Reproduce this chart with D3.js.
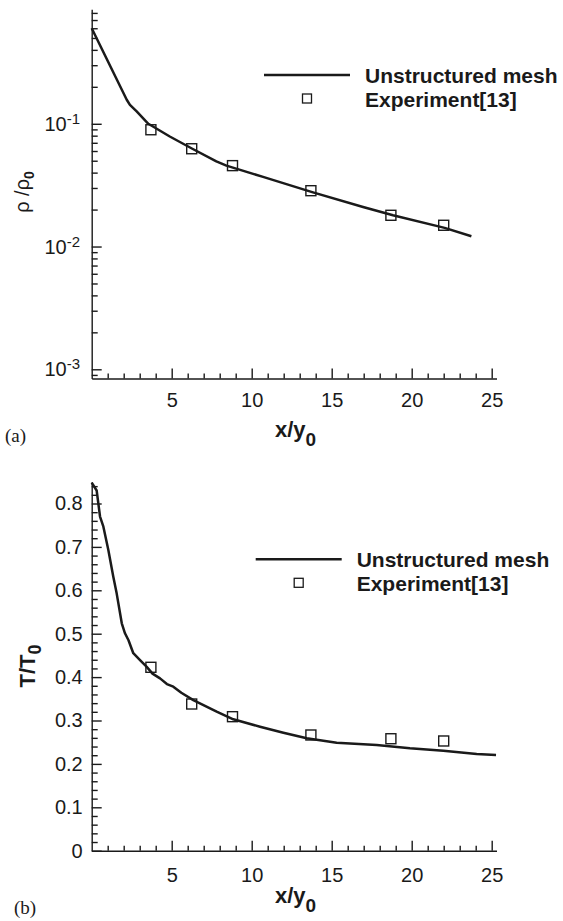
<!DOCTYPE html>
<html>
<head>
<meta charset="utf-8">
<script src="https://cdn.jsdelivr.net/npm/d3@7"></script>
<style>
  html, body { margin: 0; padding: 0; background: #fff; }
  svg { display: block; }
  text { font-family: "Liberation Sans", Arial, Helvetica, sans-serif; fill: #1a1a1a; }
  text.serif { font-family: "Liberation Serif", "Times New Roman", serif; }
</style>
</head>
<body>
<svg id="chart" width="563" height="921"></svg>
<script>
// ---------------- DATA ----------------
// shared x axis
const xMajorTicks = [5, 10, 15, 20, 25];
const xMinorTicks = [1,2,3,4,6,7,8,9,11,12,13,14,16,17,18,19,21,22,23,24];

// (a) density ratio
const rhoMajorTicks = [1e-1, 1e-2, 1e-3];
const rhoTickExponents = ["-1", "-2", "-3"];
const rhoSimX = [0, 2.19, 2.39, 2.81, 3.54, 4.88, 6.29, 7.79, 8.42, 10.71, 13.83, 16.96, 18.83, 22.06, 23.73];
const rhoSimY = [0.600, 0.157, 0.1427, 0.126, 0.100, 0.0788, 0.0626, 0.0494, 0.0456, 0.0369, 0.0276, 0.0210, 0.01797, 0.01419, 0.01213];
const rhoExpX = [3.7, 6.25, 8.8, 13.7, 18.7, 22.0];
const rhoExpY = [0.0894, 0.0626, 0.0456, 0.0285, 0.01797, 0.0149];

// (b) temperature ratio
const tMajorTicks = [0, 0.1, 0.2, 0.3, 0.4, 0.5, 0.6, 0.7, 0.8];
const tTickLabels = ["0", "0.1", "0.2", "0.3", "0.4", "0.5", "0.6", "0.7", "0.8"];
const tMinorTicks = [0.02,0.04,0.06,0.08,0.12,0.14,0.16,0.18,0.22,0.24,0.26,0.28,0.32,0.34,0.36,0.38,
                     0.42,0.44,0.46,0.48,0.52,0.54,0.56,0.58,0.62,0.64,0.66,0.68,0.72,0.74,0.76,0.78,0.82,0.84];
const tSimX = [0, 0.31, 0.52, 0.73, 1.04, 1.35, 1.56, 1.88, 2.08, 2.3, 2.6, 3.02, 3.44, 3.8, 4.27, 4.7, 5.1, 5.6, 6.35,
               7.81, 8.85, 10.52, 11.98, 13.44, 15.31, 17.81, 19.89, 21.98, 24.06, 25.27];
const tSimY = [0.848, 0.83, 0.77, 0.7465, 0.693, 0.631, 0.593, 0.524, 0.501, 0.485, 0.455, 0.439, 0.4235, 0.408, 0.397, 0.384, 0.378, 0.364, 0.347,
               0.3203, 0.3028, 0.2857, 0.2719, 0.259, 0.2488, 0.2435, 0.236, 0.2304, 0.2228, 0.2205];
const tExpX = [3.7, 6.25, 8.8, 13.7, 18.7, 22.0];
const tExpY = [0.4226, 0.338, 0.3088, 0.2666, 0.258, 0.2528];

const legendLabels = ["Unstructured mesh", "Experiment[13]"];

// ---------------- DRAW ----------------
const svg = d3.select("#chart");
const ink = "#1a1a1a";

function xAxisAndFrame(g, x, yBottom, labelBase) {
  g.append("g").attr("transform", `translate(0,${yBottom})`)
    .call(d3.axisTop(x).tickValues(xMinorTicks).tickSize(5).tickSizeOuter(0).tickFormat(""))
    .call(s => s.select(".domain").remove());
  g.append("g").attr("transform", `translate(0,${yBottom})`)
    .call(d3.axisTop(x).tickValues(xMajorTicks).tickSize(10).tickSizeOuter(0).tickFormat(""));
  g.append("g").attr("transform", `translate(0,${yBottom})`)
    .call(d3.axisBottom(x).tickValues(xMajorTicks).tickSize(0).tickPadding(labelBase - 15).tickFormat(d3.format("d")))
    .call(s => s.select(".domain").remove())
    .call(s => s.selectAll("text").attr("font-size", 20).attr("fill", ink)
      .style("font-family", '"Liberation Sans", Arial, sans-serif'));
  g.selectAll(".domain, .tick line").attr("stroke", ink).attr("stroke-width", 1.4);
}

function legend(g, lx, ly) {
  g.append("line").attr("x1", lx).attr("x2", lx + 86).attr("y1", ly).attr("y2", ly)
    .attr("stroke", ink).attr("stroke-width", 2.5);
  g.append("rect").attr("x", lx + 43 - 4.5).attr("y", ly + 23.5 - 4.5).attr("width", 9).attr("height", 9)
    .attr("fill", "none").attr("stroke", ink).attr("stroke-width", 1.3);
  g.append("text").attr("x", lx + 101).attr("y", ly + 8).attr("font-size", 21).attr("font-weight", "bold")
    .text(legendLabels[0]);
  g.append("text").attr("x", lx + 101).attr("y", ly + 31.5).attr("font-size", 21).attr("font-weight", "bold")
    .text(legendLabels[1]);
}

function squares(g, xs, ys, x, y) {
  g.selectAll("rect.exp").data(xs.map((v, i) => [v, ys[i]])).join("rect")
    .attr("class", "exp")
    .attr("x", d => x(d[0]) - 5).attr("y", d => y(d[1]) - 5)
    .attr("width", 10).attr("height", 10)
    .attr("fill", "none").attr("stroke", ink).attr("stroke-width", 1.4);
}

// ---------- (a) ----------
{
  const g = svg.append("g");
  const x = d3.scaleLinear().domain([0, 25.3]).range([91.7, 496.5]);
  const y = d3.scaleLog().domain([Math.pow(10, -3.075), Math.pow(10, -0.0675)]).range([378.5, 9.3]);

  const minor = [];
  for (let e = -4; e <= 0; e++) for (let k = 2; k <= 9; k++) {
    const v = k * Math.pow(10, e);
    if (v >= y.domain()[0] && v <= y.domain()[1]) minor.push(v);
  }
  g.append("g").attr("transform", "translate(91.7,0)")
    .call(d3.axisRight(y).tickValues(minor).tickSize(6).tickSizeOuter(0).tickFormat(""))
    .call(s => s.select(".domain").remove());
  g.append("g").attr("transform", "translate(91.7,0)")
    .call(d3.axisRight(y).tickValues(rhoMajorTicks).tickSize(10).tickSizeOuter(0).tickFormat(""));
  xAxisAndFrame(g, x, 378.5, 29);

  const lab = g.selectAll("text.ylab").data(rhoMajorTicks).join("text")
    .attr("class", "ylab").attr("text-anchor", "end")
    .attr("x", 80).attr("y", d => y(d) + 7).attr("font-size", 20);
  lab.append("tspan").text("10");
  lab.append("tspan").attr("dy", -7).attr("font-size", 15).text((d, i) => rhoTickExponents[i]);

  const yt = g.append("text").attr("transform", "translate(29,192) rotate(-90)")
    .attr("text-anchor", "middle").attr("font-size", 20);
  yt.append("tspan").text("ρ /ρ");
  yt.append("tspan").attr("dy", 5).attr("font-size", 14).attr("font-weight", "bold").text("0");

  const xt = g.append("text").attr("x", 275).attr("y", 437).attr("font-size", 22).attr("font-weight", "bold");
  xt.append("tspan").text("x/y");
  xt.append("tspan").attr("dy", 9).attr("font-size", 19).text("0");

  g.append("text").attr("class", "serif").attr("x", 5).attr("y", 442).attr("font-size", 19).text("(a)");

  const line = d3.line().x(d => x(d[0])).y(d => y(d[1]));
  g.append("path").datum(rhoSimX.map((v, i) => [v, rhoSimY[i]]))
    .attr("d", line).attr("fill", "none").attr("stroke", ink).attr("stroke-width", 2.5)
    .attr("stroke-linejoin", "round");
  squares(g, rhoExpX, rhoExpY, x, y);
  legend(g, 264, 75);
}

// ---------- (b) ----------
{
  const g = svg.append("g");
  const x = d3.scaleLinear().domain([0, 25.3]).range([91.7, 496.5]);
  const y = d3.scaleLinear().domain([0, 0.85]).range([850.7, 481.8]);

  g.append("g").attr("transform", "translate(91.7,0)")
    .call(d3.axisRight(y).tickValues(tMinorTicks).tickSize(6).tickSizeOuter(0).tickFormat(""))
    .call(s => s.select(".domain").remove());
  g.append("g").attr("transform", "translate(91.7,0)")
    .call(d3.axisRight(y).tickValues(tMajorTicks).tickSize(10).tickSizeOuter(0).tickFormat(""));
  xAxisAndFrame(g, x, 850.7, 32);

  g.append("g").attr("transform", "translate(91.7,0)")
    .call(d3.axisLeft(y).tickValues(tMajorTicks).tickSize(0).tickPadding(9)
      .tickFormat((d, i) => tTickLabels[i]))
    .call(s => s.select(".domain").remove())
    .call(s => s.selectAll("text").attr("font-size", 20).attr("fill", ink)
      .style("font-family", '"Liberation Sans", Arial, sans-serif'));

  const yt = g.append("text").attr("transform", "translate(35,666) rotate(-90)")
    .attr("text-anchor", "middle").attr("font-size", 22).attr("font-weight", "bold");
  yt.append("tspan").text("T/T");
  yt.append("tspan").attr("dy", 6).attr("font-size", 18).text("0");

  const xt = g.append("text").attr("x", 275).attr("y", 903).attr("font-size", 22).attr("font-weight", "bold");
  xt.append("tspan").text("x/y");
  xt.append("tspan").attr("dy", 9).attr("font-size", 19).text("0");

  g.append("text").attr("class", "serif").attr("x", 14).attr("y", 914).attr("font-size", 19).text("(b)");

  const line = d3.line().x(d => x(d[0])).y(d => y(d[1]));
  g.append("path").datum(tSimX.map((v, i) => [v, tSimY[i]]))
    .attr("d", line).attr("fill", "none").attr("stroke", ink).attr("stroke-width", 2.5)
    .attr("stroke-linejoin", "round");
  squares(g, tExpX, tExpY, x, y);
  legend(g, 255.7, 559.3);
}
</script>
</body>
</html>
